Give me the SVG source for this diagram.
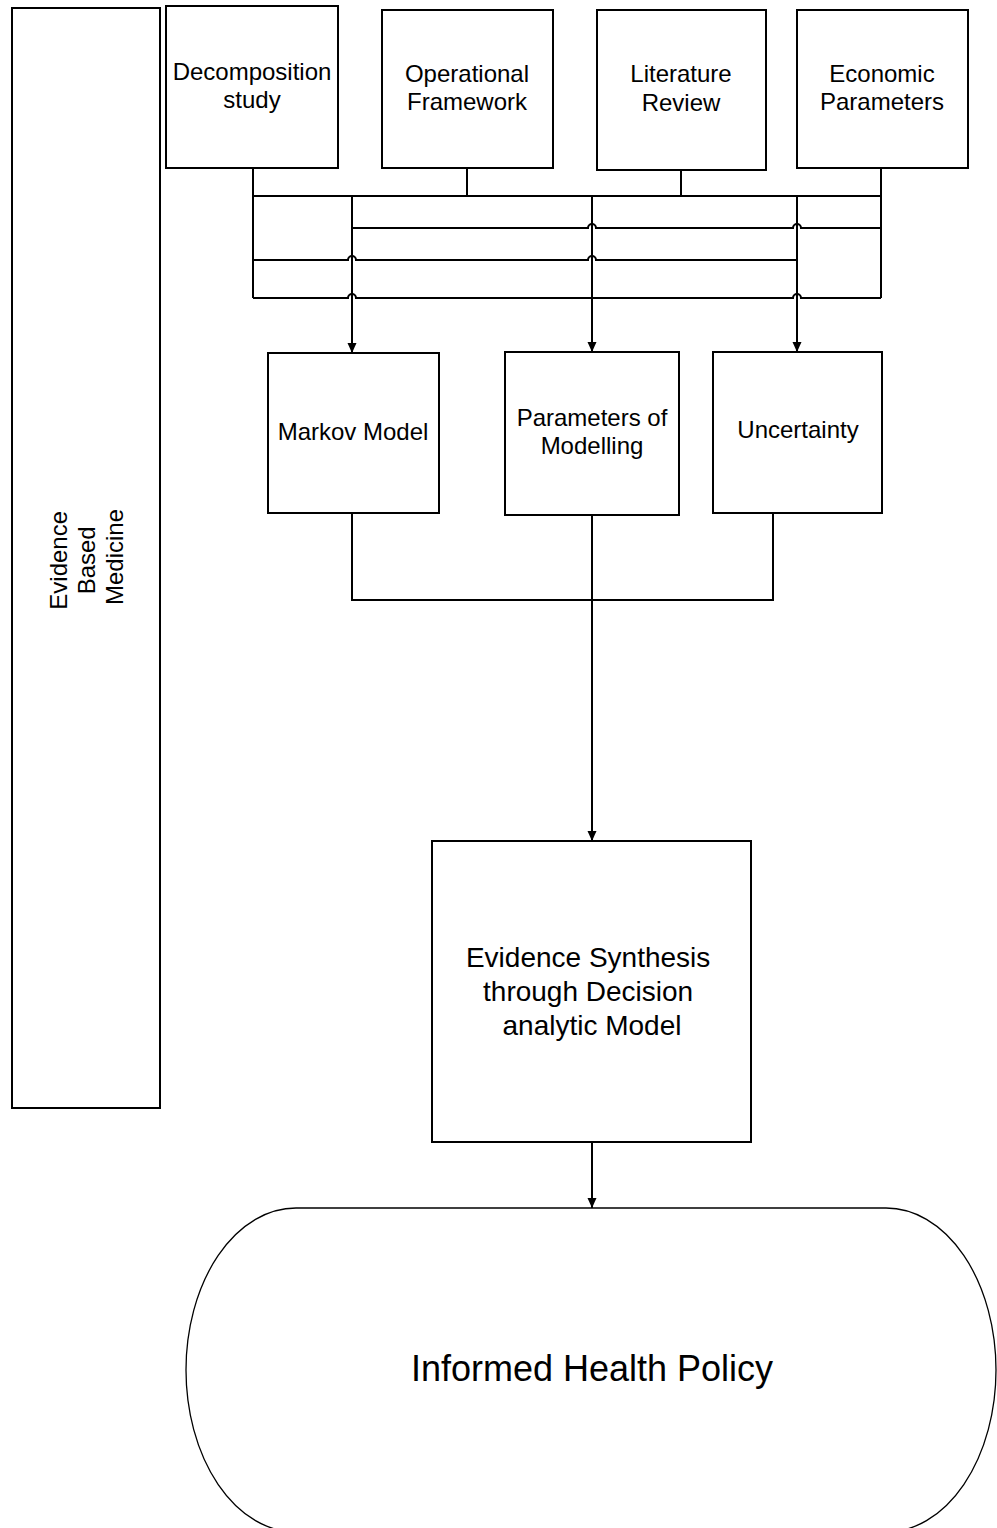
<svg xmlns="http://www.w3.org/2000/svg" width="997" height="1528" viewBox="0 0 997 1528">
  <style>
    .box { fill: #ffffff; stroke: #000000; stroke-width: 2; }
    .term { fill: #ffffff; stroke: #000000; stroke-width: 1.3; }
    .lbl { font-family: "Liberation Sans", Arial, sans-serif; font-size: 24px; fill: #000000; text-anchor: middle; }
    .lbl-md { font-size: 28px; }
    .lbl-lg { font-size: 36px; }
    .wire { fill: none; stroke: #000000; stroke-width: 2; }
    .arrow { marker-end: url(#tip); }
  </style>
  <defs>
    <marker id="tip" viewBox="0 0 10 10" refX="10" refY="5" markerWidth="10" markerHeight="10" markerUnits="userSpaceOnUse" orient="auto">
      <path d="M0,0.5 L10,5 L0,9.5 Z" fill="#000000"/>
    </marker>
  </defs>
  <rect width="997" height="1528" fill="#ffffff"/>

  <!-- connectors -->
  <g id="connectors">
    <!-- source stubs into the shared bus -->
    <path class="wire" d="M253,168 V196 M467,168 V196 M681,170 V196 M881,168 V196 M253,196 H881"/>
    <!-- side rails -->
    <path class="wire" d="M253,196 V298 M881,196 V298"/>
    <!-- cross lines with hops over the drop lines -->
    <path class="wire" d="M352,228 H588 A4,4 0 0 1 596,228 H793 A4,4 0 0 1 801,228 H881"/>
    <path class="wire" d="M253,260 H348 A4,4 0 0 1 356,260 H588 A4,4 0 0 1 596,260 H797"/>
    <path class="wire" d="M253,298 H348 A4,4 0 0 1 356,298 H793 A4,4 0 0 1 801,298 H881"/>
    <!-- drops into the model boxes -->
    <path class="wire arrow" d="M352,196 V353"/>
    <path class="wire arrow" d="M592,196 V352"/>
    <path class="wire arrow" d="M797,196 V352"/>
    <!-- model boxes merge into synthesis -->
    <path class="wire" d="M352,513 V600 H773 V513"/>
    <path class="wire arrow" d="M592,515 V841"/>
    <path class="wire arrow" d="M592,1142 V1208"/>
  </g>

  <g id="evidence-based-medicine">
    <rect class="box" x="12" y="8" width="148" height="1100"/>
    <text class="lbl" transform="translate(86,557) rotate(-90)">
      <tspan x="0" y="-19.5">Evidence</tspan>
      <tspan x="0" y="8.5">Based</tspan>
      <tspan x="0" y="36.5">Medicine</tspan>
    </text>
  </g>

  <g id="decomposition-study">
    <rect class="box" x="166" y="6" width="172" height="162"/>
    <text class="lbl"><tspan x="252" y="80">Decomposition</tspan><tspan x="252" y="108">study</tspan></text>
  </g>

  <g id="operational-framework">
    <rect class="box" x="382" y="10" width="171" height="158"/>
    <text class="lbl"><tspan x="467" y="82">Operational</tspan><tspan x="467" y="110">Framework</tspan></text>
  </g>

  <g id="literature-review">
    <rect class="box" x="597" y="10" width="169" height="160"/>
    <text class="lbl"><tspan x="681" y="82">Literature</tspan><tspan x="681" y="111">Review</tspan></text>
  </g>

  <g id="economic-parameters">
    <rect class="box" x="797" y="10" width="171" height="158"/>
    <text class="lbl"><tspan x="882" y="82">Economic</tspan><tspan x="882" y="110">Parameters</tspan></text>
  </g>

  <g id="markov-model">
    <rect class="box" x="268" y="353" width="171" height="160"/>
    <text class="lbl" x="353" y="440">Markov Model</text>
  </g>

  <g id="parameters-of-modelling">
    <rect class="box" x="505" y="352" width="174" height="163"/>
    <text class="lbl"><tspan x="592" y="426">Parameters of</tspan><tspan x="592" y="454">Modelling</tspan></text>
  </g>

  <g id="uncertainty">
    <rect class="box" x="713" y="352" width="169" height="161"/>
    <text class="lbl" x="798" y="438">Uncertainty</text>
  </g>

  <g id="evidence-synthesis">
    <rect class="box" x="432" y="841" width="319" height="301"/>
    <text class="lbl lbl-md">
      <tspan x="592" y="967">Evidence Synthesis</tspan>
      <tspan x="592" y="1001">through Decision</tspan>
      <tspan x="592" y="1035">analytic Model</tspan>
    </text>
  </g>

  <g id="informed-health-policy">
    <rect class="term" x="186" y="1208" width="810" height="324" rx="110" ry="162"/>
    <text class="lbl lbl-lg" x="592" y="1381">Informed Health Policy</text>
  </g>
</svg>
